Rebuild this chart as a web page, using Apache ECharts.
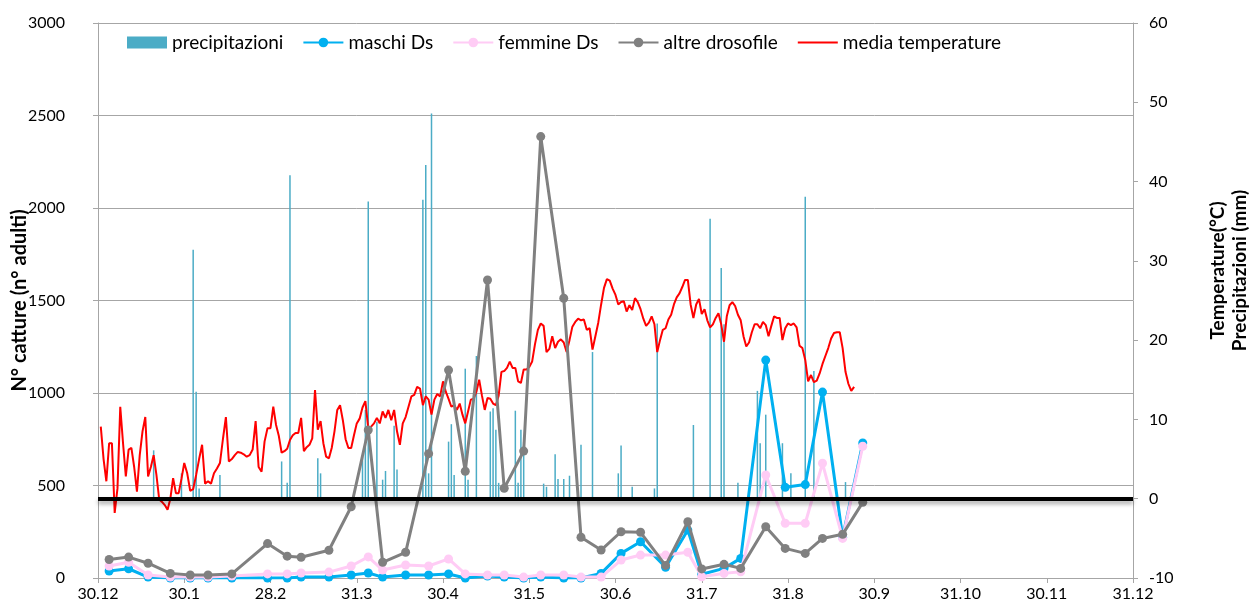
<!DOCTYPE html>
<html><head><meta charset="utf-8">
<script src="https://cdn.jsdelivr.net/npm/echarts@6/dist/echarts.min.js"></script>
<style>html,body{margin:0;padding:0;background:#fff}#c{width:1250px;height:613px}</style>
</head><body><div id="c"></div>
<script>
// ---- axis ticks ----
const tickDates = ['2013-12-30','2014-01-30','2014-02-28','2014-03-31','2014-04-30','2014-05-31','2014-06-30','2014-07-31','2014-08-31','2014-09-30','2014-10-31','2014-11-30','2014-12-31'];
const tickLabels = ['30.12','30.1','28.2','31.3','30.4','31.5','30.6','31.7','31.8','30.9','31.10','30.11','31.12'];

// ---- weekly trap samples (left axis, n° adults) ----
const sampleDates = ['2014-01-03','2014-01-10','2014-01-17','2014-01-25','2014-02-01','2014-02-07','2014-02-15','2014-02-27','2014-03-06','2014-03-11','2014-03-21','2014-03-29','2014-04-04','2014-04-09','2014-04-17','2014-04-25','2014-05-02','2014-05-08','2014-05-16','2014-05-22','2014-05-29','2014-06-04','2014-06-12','2014-06-18','2014-06-25','2014-07-02','2014-07-09','2014-07-18','2014-07-26','2014-07-31','2014-08-08','2014-08-14','2014-08-23','2014-08-30','2014-09-06','2014-09-12','2014-09-19','2014-09-26'];
const maschiDs = [38,50,5,0,0,0,0,0,0,5,5,16,27,5,16,16,22,0,11,5,0,5,0,0,25,133,196,58,259,20,52,106,1178,490,505,1005,220,730];
const femmineDs = [65,85,16,5,5,5,11,22,22,27,32,65,114,43,70,65,103,22,16,16,5,16,16,5,5,97,124,124,139,7,25,34,557,296,296,620,214,712];
const altreDrosofile = [100,113,80,25,16,16,22,186,118,112,150,385,800,85,139,672,1124,577,1611,485,686,2386,1512,220,151,250,247,68,304,49,74,52,277,160,133,214,236,409];

// ---- daily mean temperature (right axis, °C), from tempStart ----
const tempStart = '2013-12-31';
const mediaTemperature = [
9.1,5.0,2.2,7.0,7.0,-1.8,1.3,11.6,7.0,2.8,
6.2,6.4,4.0,0.9,5.5,8.5,10.3,2.8,4.0,5.5,
3.0,-0.1,-0.4,-0.8,-1.4,0.0,2.6,0.7,0.7,2.5,
4.5,3.2,1.0,1.2,3.0,5.0,6.8,1.9,2.2,1.9,
3.2,3.8,4.5,7.5,10.3,4.7,5.0,5.5,5.9,5.8,
5.6,5.3,5.5,6.2,9.8,4.0,3.4,7.2,8.9,8.9,
11.6,9.3,7.9,5.8,6.0,6.3,7.4,8.0,8.3,8.3,
10.2,6.0,6.5,6.8,7.6,13.7,8.7,9.8,7.0,5.3,
5.1,6.4,8.5,11.2,11.8,9.9,7.5,6.4,6.4,8.0,
9.5,10.1,11.5,12.3,8.9,9.1,9.5,10.2,9.5,11.0,
10.2,11.2,9.9,11.2,8.5,6.8,9.5,10.3,11.6,12.9,
13.1,14.1,13.9,11.8,12.9,12.5,10.6,12.5,13.2,12.9,
14.8,13.5,12.6,11.6,11.8,11.2,12.0,10.6,9.5,11.0,
12.5,12.6,13.5,15.0,13.0,11.2,12.7,12.6,12.0,11.8,
13.0,16.0,16.1,16.5,17.3,16.5,16.5,14.8,14.6,16.3,
16.3,16.6,17.3,19.5,21.3,22.1,21.8,18.5,18.9,20.5,
19.0,19.8,20.1,19.7,18.5,20.0,21.7,22.3,22.7,22.5,
22.6,21.3,21.5,18.8,20.5,22.2,24.5,26.6,27.7,27.5,
26.5,25.7,24.5,24.8,24.9,23.6,24.4,23.8,25.3,24.8,
23.9,22.7,21.8,22.2,23.0,22.0,18.5,20.0,21.3,21.5,
22.6,23.2,24.5,25.4,25.9,26.7,27.6,27.6,24.5,22.8,
24.5,25.2,23.3,23.9,22.5,21.6,22.0,22.8,23.4,22.0,
19.8,23.0,24.4,24.8,24.3,23.2,22.5,20.5,19.2,19.7,
21.0,22.0,22.0,21.5,22.3,21.9,20.5,21.8,23.0,22.8,
22.8,20.0,21.5,22.1,21.9,22.1,21.6,19.3,19.0,17.5,
14.8,15.6,14.7,14.9,15.8,17.0,18.0,19.0,20.2,20.9,
21.0,21.0,19.0,16.0,14.5,13.6,14.1];

// ---- rainy days (right axis, mm) ----
const precipDates = ['2014-01-19','2014-01-29','2014-02-02','2014-02-03','2014-02-04','2014-02-11','2014-03-04','2014-03-06','2014-03-07','2014-03-17','2014-03-18','2014-04-02','2014-04-03','2014-04-04','2014-04-07','2014-04-09','2014-04-10','2014-04-13','2014-04-14','2014-04-23','2014-04-24','2014-04-25','2014-04-26','2014-05-02','2014-05-03','2014-05-04','2014-05-08','2014-05-09','2014-05-12','2014-05-17','2014-05-18','2014-05-19','2014-05-20','2014-05-26','2014-05-27','2014-05-28','2014-05-29','2014-06-05','2014-06-06','2014-06-09','2014-06-10','2014-06-12','2014-06-14','2014-06-18','2014-06-22','2014-07-01','2014-07-02','2014-07-06','2014-07-14','2014-07-15','2014-07-28','2014-08-03','2014-08-07','2014-08-08','2014-08-13','2014-08-20','2014-08-21','2014-08-23','2014-08-29','2014-09-01','2014-09-06','2014-09-09','2014-09-20'];
const precipMm = [6.1,3.2,31.4,13.5,1.3,3.0,4.7,2.0,40.8,5.1,3.2,5.3,11.2,37.5,9.7,2.4,3.5,9.2,3.7,37.7,42.1,3.2,48.6,7.2,9.4,3.0,16.4,2.4,18.0,11.0,11.4,8.7,2.0,11.1,2.0,8.7,7.2,1.9,1.5,5.6,2.5,2.5,2.9,6.8,18.5,3.2,6.7,1.5,1.3,22.1,9.3,35.3,29.1,22.0,2.0,13.6,7.0,10.6,7.0,3.2,38.1,16.1,2.1];

// ---- date -> position on the month axis (each month = one unit, like the reference) ----
const DAY = 86400000;
const ms = s => Date.parse(s + 'T00:00:00Z');
const tickMs = tickDates.map(ms);
function pos(t) {
  for (let k = 0; k < tickMs.length - 1; k++) {
    if (t <= tickMs[k + 1]) return k + (t - tickMs[k]) / (tickMs[k + 1] - tickMs[k]);
  }
  return tickMs.length - 1;
}
const t0 = ms(tempStart);
const tempData = mediaTemperature.map((v, i) => [pos(t0 + i * DAY), v]);
const precipData = precipDates.map((d, i) => [pos(ms(d)), precipMm[i]]);
const sx = sampleDates.map(d => pos(ms(d)));
const pair = arr => arr.map((v, i) => [sx[i], v]);

const FONT = 'Lato, "Open Sans", sans-serif';
const AX = '#A6A6A6';
const chart = echarts.init(document.getElementById('c'), null, {renderer: 'canvas'});
chart.setOption({
  animation: false,
  backgroundColor: '#fff',
  textStyle: {fontFamily: FONT},
  grid: {left: 98, right: 117, top: 23, bottom: 35, containLabel: false, outerBoundsMode: 'none'},
  legend: {
    top: 28, left: 122, itemWidth: 40, itemHeight: 12, itemGap: 19,
    textStyle: {fontFamily: FONT, fontSize: 19, color: '#000'},
    data: [
      {name: 'precipitazioni', icon: 'rect'},
      {name: 'maschi Ds'}, {name: 'femmine Ds'}, {name: 'altre drosofile'},
      {name: 'media temperature', itemStyle: {opacity: 0}}
    ]
  },
  xAxis: {
    type: 'value', min: 0, max: 12, interval: 1,
    axisLine: {lineStyle: {color: AX, width: 1}},
    axisTick: {show: true, length: 5, lineStyle: {color: AX}},
    axisLabel: {formatter: v => tickLabels[Math.round(v)], color: '#000', fontSize: 16, margin: 8, fontFamily: FONT},
    splitLine: {show: false}
  },
  yAxis: [
    {
      type: 'value', min: 0, max: 3000, interval: 500,
      name: 'N° catture (n° adulti)', nameLocation: 'middle', nameRotate: 90, nameGap: 68, nameMoveOverlap: false,
      nameTextStyle: {fontWeight: 'bold', fontSize: 20, color: '#000', fontFamily: FONT},
      axisLine: {show: true, lineStyle: {color: AX}},
      axisTick: {show: true, length: 5, lineStyle: {color: AX}},
      axisLabel: {formatter: v => String(v), color: '#000', fontSize: 16, margin: 33, fontFamily: FONT},
      splitLine: {show: true, lineStyle: {color: AX, width: 1}}
    },
    {
      type: 'value', min: -10, max: 60, interval: 10, position: 'right',
      name: 'Temperature(°C)\nPrecipitazioni (mm)', nameLocation: 'middle', nameRotate: 90, nameGap: 74, nameMoveOverlap: false,
      nameTextStyle: {fontWeight: 'bold', fontSize: 19, color: '#000', lineHeight: 22, fontFamily: FONT, padding: [0, 0, 0, 60]},
      axisLine: {show: true, lineStyle: {color: AX}},
      axisTick: {show: true, length: 5, lineStyle: {color: AX}},
      axisLabel: {formatter: v => String(v), color: '#000', fontSize: 16, margin: 16, fontFamily: FONT},
      splitLine: {show: false}
    }
  ],
  series: [
    {
      name: 'precipitazioni', type: 'bar', yAxisIndex: 1, data: precipData,
      barWidth: 1.5, itemStyle: {color: '#4BACC6'}, z: 1
    },
    {
      name: 'media temperature', type: 'line', yAxisIndex: 1, data: tempData,
      showSymbol: false, symbol: 'none', lineStyle: {color: '#FF0000', width: 2}, itemStyle: {color: '#FF0000'}, z: 2,
      markLine: {
        silent: true, symbol: 'none', label: {show: false},
        lineStyle: {color: '#000', width: 4, type: 'solid', shadowColor: 'rgba(0,0,0,0.35)', shadowBlur: 4, shadowOffsetY: 3},
        data: [{yAxis: 0}], z: 10
      }
    },
    {
      name: 'maschi Ds', type: 'line', data: pair(maschiDs), symbol: 'circle', symbolSize: 9,
      lineStyle: {color: '#00B0F0', width: 3}, itemStyle: {color: '#00B0F0'}, z: 3
    },
    {
      name: 'femmine Ds', type: 'line', data: pair(femmineDs), symbol: 'circle', symbolSize: 9,
      lineStyle: {color: '#FFCCF5', width: 3}, itemStyle: {color: '#FFCCF5'}, z: 4
    },
    {
      name: 'altre drosofile', type: 'line', data: pair(altreDrosofile), symbol: 'circle', symbolSize: 9,
      lineStyle: {color: '#808080', width: 3}, itemStyle: {color: '#808080'}, z: 5
    }
  ]
});
</script></body></html>
